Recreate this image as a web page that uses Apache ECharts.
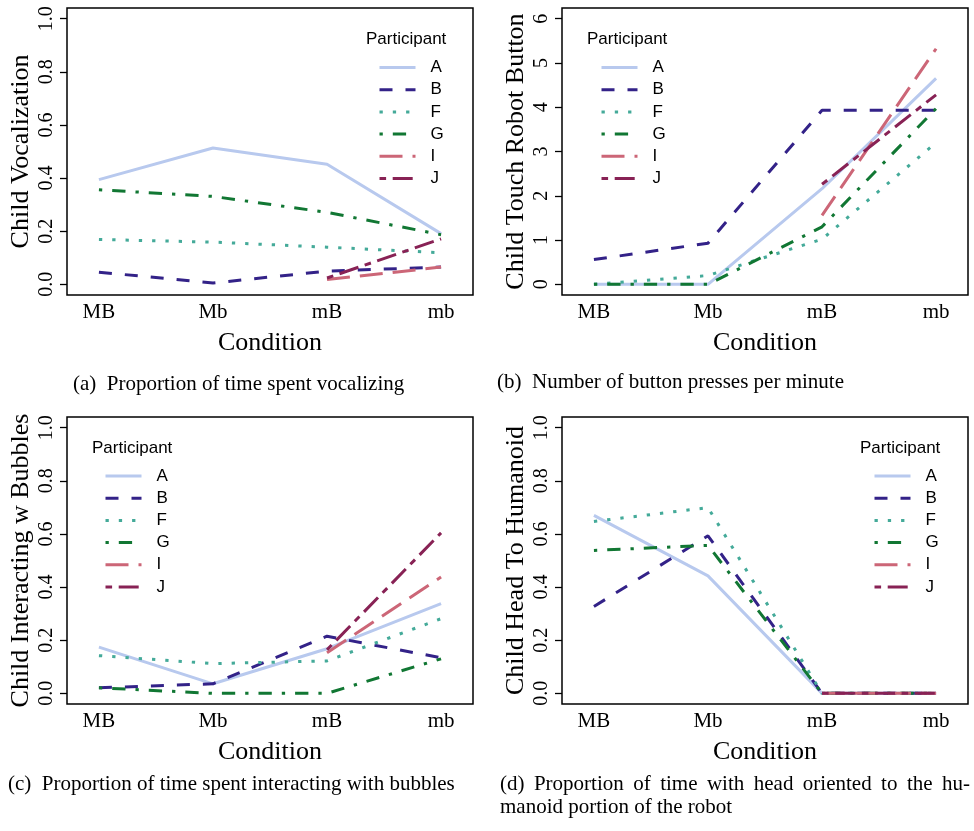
<!DOCTYPE html>
<html>
<head>
<meta charset="utf-8">
<script src="https://cdn.jsdelivr.net/npm/echarts@6/dist/echarts.min.js"></script>
<style>
  html, body { margin: 0; padding: 0; background: #fff; }
  #chart { width: 974px; height: 831px; }
</style>
</head>
<body>
<div id="chart"></div>
<script>
// x categories and participants
const conditions = ['MB', 'Mb', 'mB', 'mb'];
const participants = ['A', 'B', 'F', 'G', 'I', 'J'];

// (a) proportion of time spent vocalizing
const vocalization = {
  A: [0.394, 0.513, 0.452, 0.191],
  B: [0.046, 0.005, 0.050, 0.065],
  F: [0.169, 0.159, 0.140, 0.119],
  G: [0.356, 0.331, 0.271, 0.187],
  I: [null, null, 0.018, 0.065],
  J: [null, null, 0.024, 0.171]
};
// (b) button presses per minute
const buttonPresses = {
  A: [0, 0, 2.16, 4.65],
  B: [0.56, 0.93, 3.93, 3.93],
  F: [0, 0.2, 1.02, 3.2],
  G: [0, 0, 1.3, 3.97],
  I: [null, null, 1.56, 5.32],
  J: [null, null, 2.26, 4.28]
};
// (c) proportion of time interacting with bubbles
const bubbles = {
  A: [0.174, 0.036, 0.168, 0.338],
  B: [0.021, 0.036, 0.215, 0.134],
  F: [0.142, 0.112, 0.122, 0.281],
  G: [0.021, 0, 0, 0.130],
  I: [null, null, 0.153, 0.438],
  J: [null, null, 0.164, 0.604]
};
// (d) proportion of time with head to humanoid portion
const humanoid = {
  A: [0.670, 0.442, 0, 0],
  B: [0.327, 0.593, 0, 0],
  F: [0.647, 0.699, 0, 0],
  G: [0.538, 0.557, 0, 0],
  I: [null, null, 0, 0],
  J: [null, null, 0, 0]
};

const propTicks = [0, 0.2, 0.4, 0.6, 0.8, 1.0];
const countTicks = [0, 1, 2, 3, 4, 5, 6];

// R style line types (lty 1..6), lwd about 3
const colors = { A: '#b8c9ee', B: '#332288', F: '#44aa99', G: '#117733', I: '#cc6677', J: '#882255' };
const dashes = {
  A: 'solid',
  B: [13, 13],
  F: [3.3, 10],
  G: [3.3, 10, 13.3, 10],
  I: [23, 10],
  J: [6.6, 6.6, 20, 6.6]
};

const serif = 'Liberation Serif';
const sans = 'Liberation Sans';

const panels = [
  { data: vocalization, name: 'Child Vocalization', ticks: propTicks, min: -0.04, max: 1.04, dec: 1,
    left: 67, top: 8, legendLeft: 378, legendTop: 59 },
  { data: buttonPresses, name: 'Child Touch Robot Button', ticks: countTicks, min: -0.24, max: 6.24, dec: 0,
    left: 562, top: 8, legendLeft: 600, legendTop: 59 },
  { data: bubbles, name: 'Child Interacting w Bubbles', ticks: propTicks, min: -0.04, max: 1.04, dec: 1,
    left: 67, top: 417, legendLeft: 104, legendTop: 467.5 },
  { data: humanoid, name: 'Child Head To Humanoid', ticks: propTicks, min: -0.04, max: 1.04, dec: 1,
    left: 562, top: 417, legendLeft: 873, legendTop: 467.5 }
];

const lineStyleOf = name => ({ color: colors[name], width: 3, type: dashes[name], cap: 'butt' });

const grids = [], xAxes = [], yAxes = [], legends = [], series = [];

panels.forEach((p, k) => {
  grids.push({
    left: p.left, top: p.top, width: 406, height: 287,
    show: true, borderColor: '#000', borderWidth: 1.5, backgroundColor: 'transparent'
  });
  xAxes.push({
    type: 'value', gridIndex: k, min: 0.72, max: 4.28,
    name: 'Condition', nameLocation: 'middle', nameGap: 35,
    nameTextStyle: { fontFamily: serif, fontSize: 26, color: '#000' },
    axisLine: { show: false }, axisTick: { show: false }, splitLine: { show: false },
    axisLabel: {
      customValues: [1, 2, 3, 4], margin: 7,
      fontFamily: serif, fontSize: 21, color: '#000',
      formatter: v => conditions[Math.round(v) - 1]
    }
  });
  yAxes.push({
    type: 'value', gridIndex: k, min: p.min, max: p.max,
    name: p.name, nameLocation: 'middle', nameGap: 33,
    nameTextStyle: { fontFamily: serif, fontSize: 26, color: '#000' },
    axisLine: { show: false }, splitLine: { show: false },
    axisTick: { show: true, customValues: p.ticks, length: 7, lineStyle: { color: '#000', width: 1.3 } },
    axisLabel: {
      customValues: p.ticks, rotate: 90, margin: 10,
      fontFamily: serif, fontSize: 20, color: '#000',
      formatter: v => Number(v).toFixed(p.dec)
    }
  });
  legends.push({
    data: participants.map(name => ({ name: name, lineStyle: lineStyleOf(name) })),
    orient: 'vertical', left: p.legendLeft, top: p.legendTop,
    padding: 0, itemWidth: 36, itemHeight: 17, itemGap: 5.2,
    selectedMode: false,
    itemStyle: { opacity: 0 },
    textStyle: { fontFamily: sans, fontSize: 17, color: '#000', lineHeight: 17, padding: [0, 0, 0, 10] }
  });
  participants.forEach((name, i) => {
    series.push({
      type: 'line', name: name, xAxisIndex: k, yAxisIndex: k,
      data: p.data[name].map((v, j) => [j + 1, v == null ? '-' : v]),
      symbol: 'none', silent: true, z: 2 + i,
      itemStyle: { color: colors[name] },
      lineStyle: lineStyleOf(name)
    });
  });
});

const titles = [
  { text: 'Participant', left: 366, top: 30.5 },
  { text: 'Participant', left: 587, top: 30.5 },
  { text: 'Participant', left: 92, top: 439.5 },
  { text: 'Participant', left: 860, top: 439.5 }
].map(t => Object.assign(t, {
  padding: 0,
  textStyle: { fontFamily: sans, fontSize: 17, fontWeight: 'normal', color: '#000', lineHeight: 17 }
}));

const gap = '\u2009 ';
const captions = [
  { text: '(a)  Proportion of time spent vocalizing', left: 73, top: 373 },
  { text: '(b)  Number of button presses per minute', left: 497, top: 371 },
  { text: '(c)  Proportion of time spent interacting with bubbles', left: 8, top: 773 },
  { text: ['(d)', 'Proportion', 'of', 'time', 'with', 'head', 'oriented', 'to', 'the', 'hu-'].join(gap) +
      '\nmanoid portion of the robot', left: 500, top: 773 }
].map(t => Object.assign(t, {
  padding: 0,
  textStyle: { fontFamily: serif, fontSize: 21, fontWeight: 'normal', color: '#000', lineHeight: 23 }
}));

const chart = echarts.init(document.getElementById('chart'));
chart.setOption({
  animation: false,
  backgroundColor: '#fff',
  title: titles.concat(captions),
  grid: grids,
  xAxis: xAxes,
  yAxis: yAxes,
  legend: legends,
  series: series
});
</script>
</body>
</html>
